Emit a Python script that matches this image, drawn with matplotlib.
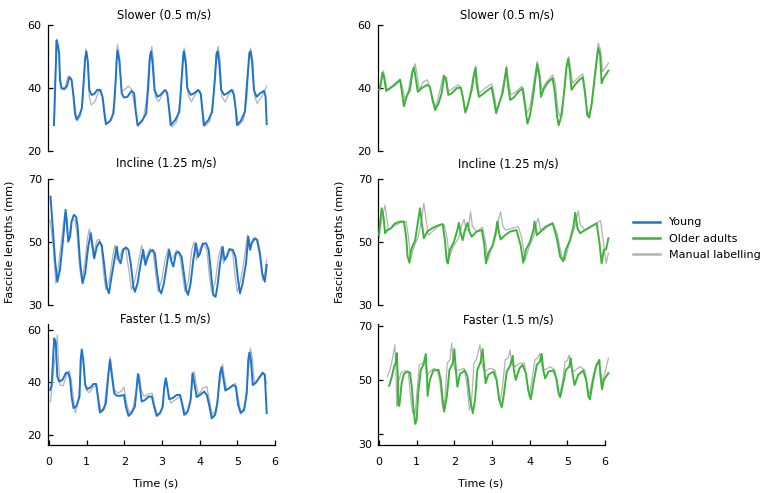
import matplotlib
matplotlib.use("Agg")
import matplotlib.pyplot as plt
from matplotlib.lines import Line2D

BLUE = "#1c74d0"
GREEN = "#3db33a"
GRAY = "#b3b3b3"

titles = ["Slower (0.5 m/s)", "Incline (1.25 m/s)", "Faster (1.5 m/s)"]
legend_labels = ["Young", "Older adults", "Manual labelling"]
x_ticks = [0, 1, 2, 3, 4, 5, 6]

# ---- Young (left column): (time s, fascicle length mm) ----
slow_young = [(0.13,28.2),(0.18,46.8),(0.20,55.1),(0.24,53.2),(0.27,50.6),(0.29,42.6),(0.33,39.9),(0.40,39.6),(0.47,40.4),(0.54,43.4),(0.60,42.6),(0.65,37.2),(0.69,31.9),(0.73,30.0),(0.81,31.4),(0.87,33.5),(0.91,40.4),(0.96,49.5),(0.99,51.6),(1.03,48.4),(1.07,39.4),(1.13,37.8),(1.20,38.1),(1.28,39.4),(1.35,39.4),(1.42,37.2),(1.47,31.9),(1.51,28.5),(1.62,29.5),(1.71,31.9),(1.76,40.4),(1.80,49.5),(1.82,51.9),(1.87,48.4),(1.93,38.3),(1.99,37.0),(2.08,37.2),(2.19,39.1),(2.26,38.3),(2.30,33.0),(2.35,28.2),(2.46,29.5),(2.58,31.9),(2.64,41.5),(2.68,50.0),(2.71,51.6),(2.75,47.9),(2.80,39.4),(2.88,37.2),(2.96,37.8),(3.08,39.4),(3.14,38.3),(3.19,33.0),(3.23,28.2),(3.35,29.8),(3.46,32.4),(3.52,42.6),(3.57,51.1),(3.58,51.6),(3.63,47.9),(3.67,39.9),(3.76,37.8),(3.85,38.3),(3.96,39.4),(4.03,38.1),(4.07,33.0),(4.11,28.2),(4.23,29.8),(4.33,32.4),(4.41,43.6),(4.45,51.1),(4.48,51.6),(4.52,47.9),(4.57,39.4),(4.65,37.8),(4.73,38.3),(4.85,39.4),(4.91,37.8),(4.96,33.0),(4.99,28.2),(5.09,29.5),(5.20,32.4),(5.27,43.6),(5.32,51.1),(5.35,51.6),(5.39,48.4),(5.44,39.4),(5.51,37.2),(5.60,38.3),(5.71,39.1),(5.75,37.2),(5.78,28.5)]
slow_young_manual = [(0.14,28.7),(0.19,54.3),(0.21,55.6),(0.26,52.2),(0.29,43.6),(0.34,40.2),(0.42,40.2),(0.51,43.8),(0.58,43.4),(0.65,38.3),(0.70,33.0),(0.75,29.5),(0.82,30.8),(0.89,35.1),(0.94,44.7),(0.98,52.4),(1.02,50.0),(1.07,37.2),(1.12,34.6),(1.22,35.6),(1.33,39.4),(1.38,39.6),(1.44,36.2),(1.50,30.8),(1.53,28.7),(1.66,29.8),(1.75,36.2),(1.80,52.2),(1.82,53.8),(1.87,50.0),(1.93,38.8),(2.01,39.6),(2.11,40.6),(2.19,39.6),(2.28,34.0),(2.37,27.8),(2.50,29.8),(2.59,36.2),(2.66,49.0),(2.73,53.2),(2.77,49.0),(2.82,37.2),(2.91,35.6),(3.04,38.8),(3.12,39.1),(3.19,34.0),(3.26,27.6),(3.39,29.2),(3.48,36.2),(3.55,49.5),(3.59,52.7),(3.64,49.0),(3.69,37.8),(3.78,35.6),(3.92,38.8),(4.01,39.1),(4.07,34.0),(4.14,27.8),(4.27,29.5),(4.36,36.2),(4.43,50.0),(4.49,53.2),(4.54,49.0),(4.59,37.2),(4.68,35.6),(4.81,38.8),(4.89,39.4),(4.96,33.0),(5.04,28.2),(5.16,29.8),(5.25,36.2),(5.32,51.1),(5.35,52.7),(5.41,49.0),(5.46,37.2),(5.53,35.1),(5.65,37.2),(5.78,40.6)]

incline_young = [(0.04,64.4),(0.16,44.3),(0.22,37.4),(0.29,41.1),(0.38,51.7),(0.44,60.2),(0.47,57.0),(0.51,50.1),(0.56,51.7),(0.60,56.5),(0.66,58.6),(0.72,58.0),(0.76,54.9),(0.82,44.3),(0.89,36.9),(0.96,40.1),(1.04,48.5),(1.11,52.8),(1.16,48.5),(1.20,44.8),(1.27,48.5),(1.34,50.1),(1.40,49.0),(1.46,43.2),(1.53,35.8),(1.59,33.7),(1.66,39.0),(1.75,45.3),(1.80,48.5),(1.84,44.8),(1.90,43.2),(1.97,47.5),(2.04,48.3),(2.11,47.5),(2.17,43.2),(2.24,35.8),(2.28,34.2),(2.35,36.9),(2.42,42.2),(2.50,47.5),(2.56,42.7),(2.61,44.8),(2.68,46.9),(2.75,47.5),(2.81,46.4),(2.86,41.1),(2.93,34.8),(2.98,33.7),(3.05,36.9),(3.12,42.2),(3.19,47.5),(3.25,43.8),(3.30,42.2),(3.37,46.4),(3.44,46.9),(3.52,45.3),(3.58,40.1),(3.64,34.8),(3.69,33.2),(3.76,36.9),(3.83,44.3),(3.90,49.6),(3.96,45.3),(4.01,46.4),(4.08,49.4),(4.17,49.6),(4.24,47.5),(4.30,40.1),(4.36,33.2),(4.42,32.6),(4.47,35.8),(4.54,43.2),(4.61,48.5),(4.66,44.3),(4.72,45.3),(4.79,47.7),(4.88,47.5),(4.95,45.3),(5.02,37.9),(5.07,33.7),(5.14,36.9),(5.23,43.2),(5.29,51.7),(5.34,47.5),(5.38,49.6),(5.47,51.2),(5.53,50.6),(5.60,46.4),(5.66,40.1),(5.73,37.4),(5.78,42.7)]
incline_young_manual = [(0.03,57.0),(0.12,47.5),(0.18,36.9),(0.25,42.2),(0.34,51.7),(0.42,59.1),(0.47,54.9),(0.51,50.6),(0.60,57.0),(0.69,57.0),(0.75,51.7),(0.82,41.1),(0.88,37.4),(0.96,44.3),(1.02,51.2),(1.07,54.1),(1.13,49.0),(1.18,45.3),(1.27,50.6),(1.34,50.8),(1.40,47.5),(1.46,39.0),(1.51,34.8),(1.60,37.9),(1.69,45.3),(1.75,49.0),(1.81,44.3),(1.88,45.3),(1.96,48.0),(2.04,47.5),(2.13,40.1),(2.19,34.8),(2.28,37.9),(2.37,43.2),(2.46,49.0),(2.52,44.3),(2.59,45.3),(2.68,48.0),(2.77,46.4),(2.84,39.0),(2.90,34.2),(2.99,37.9),(3.08,44.3),(3.17,48.0),(3.23,44.3),(3.30,45.3),(3.39,47.5),(3.48,45.3),(3.55,39.0),(3.61,34.2),(3.70,37.4),(3.79,47.5),(3.85,50.1),(3.92,44.3),(3.99,47.5),(4.08,49.6),(4.19,47.5),(4.26,39.0),(4.32,34.2),(4.41,36.9),(4.50,45.3),(4.57,48.5),(4.63,43.2),(4.70,45.3),(4.79,48.0),(4.88,46.4),(4.94,39.0),(5.00,34.2),(5.09,37.9),(5.18,44.3),(5.27,52.2),(5.34,48.5),(5.42,51.2),(5.51,50.6),(5.60,45.3),(5.67,37.9),(5.73,40.1),(5.78,44.3)]

fast_young = [(0.03,37.1),(0.07,39.0),(0.12,52.4),(0.14,56.8),(0.18,54.9),(0.22,42.2),(0.27,40.3),(0.36,41.0),(0.45,43.7),(0.51,43.7),(0.56,41.0),(0.60,34.6),(0.65,30.2),(0.73,31.0),(0.81,34.6),(0.84,48.6),(0.87,52.6),(0.91,48.6),(0.96,39.0),(1.02,37.4),(1.11,38.2),(1.18,39.4),(1.25,39.4),(1.29,35.2),(1.35,28.5),(1.44,29.5),(1.51,32.1),(1.58,43.5),(1.62,48.6),(1.66,43.5),(1.73,35.9),(1.80,34.9),(1.90,34.9),(1.99,35.2),(2.04,30.8),(2.11,27.2),(2.19,28.3),(2.28,30.8),(2.33,38.4),(2.36,43.2),(2.40,39.7),(2.46,32.7),(2.55,33.3),(2.64,34.6),(2.73,34.6),(2.79,30.8),(2.86,27.2),(2.95,28.3),(3.02,30.8),(3.06,38.4),(3.10,41.6),(3.14,38.4),(3.19,33.6),(3.28,34.0),(3.39,35.2),(3.48,35.2),(3.53,32.1),(3.59,27.6),(3.68,28.9),(3.76,33.3),(3.81,43.5),(3.86,39.7),(3.92,34.4),(4.01,35.2),(4.12,36.5),(4.19,35.2),(4.26,30.8),(4.32,26.3),(4.41,27.6),(4.47,32.1),(4.54,43.5),(4.58,45.8),(4.63,41.6),(4.68,36.9),(4.79,37.8),(4.89,39.0),(4.96,38.4),(5.02,31.4),(5.09,28.3),(5.18,29.5),(5.25,35.9),(5.29,48.6),(5.32,51.4),(5.36,48.6),(5.41,39.0),(5.48,39.7),(5.57,41.6),(5.67,43.7),(5.73,42.9),(5.78,28.3)]
fast_young_manual = [(0.04,32.7),(0.12,44.8),(0.19,52.4),(0.22,58.1),(0.25,48.6),(0.29,39.0),(0.38,38.7),(0.47,42.9),(0.54,44.5),(0.59,41.0),(0.65,33.3),(0.70,28.3),(0.78,33.3),(0.85,45.4),(0.88,50.5),(0.93,46.0),(0.98,37.1),(1.07,36.1),(1.18,38.4),(1.27,38.7),(1.32,33.3),(1.38,28.9),(1.47,31.0),(1.55,41.0),(1.62,49.8),(1.67,44.8),(1.73,37.1),(1.84,35.9),(1.93,36.9),(1.99,38.2),(2.06,32.1),(2.13,28.3),(2.22,29.5),(2.29,34.6),(2.35,39.7),(2.40,42.9),(2.45,37.1),(2.52,34.6),(2.64,35.6),(2.74,35.9),(2.81,30.8),(2.88,27.6),(2.99,29.5),(3.05,35.9),(3.11,41.2),(3.17,35.9),(3.23,32.1),(3.35,33.3),(3.48,34.6),(3.56,30.8),(3.65,27.6),(3.73,30.8),(3.81,39.7),(3.86,44.1),(3.90,39.7),(3.97,35.2),(4.08,37.8),(4.19,38.4),(4.26,33.3),(4.33,27.6),(4.43,29.5),(4.52,38.4),(4.61,46.9),(4.65,42.2),(4.72,37.1),(4.82,38.2),(4.95,39.7),(5.02,34.6),(5.09,28.3),(5.20,30.8),(5.29,43.5),(5.35,53.0),(5.40,49.2),(5.45,39.9),(5.56,41.0),(5.69,43.7),(5.78,39.7)]

# ---- Older adults (right column) ----
slow_older = [(0.00,39.4),(0.03,39.9),(0.09,44.9),(0.13,43.6),(0.19,39.1),(0.29,39.9),(0.42,41.0),(0.56,42.6),(0.60,39.4),(0.66,34.2),(0.73,37.2),(0.82,39.4),(0.89,45.2),(0.93,46.5),(0.98,42.6),(1.03,38.8),(1.13,39.9),(1.28,41.0),(1.35,40.4),(1.42,36.2),(1.49,33.0),(1.58,35.1),(1.66,38.3),(1.73,43.8),(1.78,43.1),(1.84,37.8),(1.93,38.3),(2.06,39.9),(2.17,40.2),(2.24,36.2),(2.29,32.2),(2.37,35.1),(2.46,39.4),(2.52,44.2),(2.56,46.3),(2.59,41.5),(2.65,37.2),(2.75,38.0),(2.86,39.1),(2.99,40.2),(3.05,36.2),(3.11,32.0),(3.19,35.1),(3.28,38.3),(3.35,43.6),(3.38,46.3),(3.42,41.5),(3.48,36.2),(3.58,37.0),(3.70,38.8),(3.81,39.9),(3.88,34.0),(3.94,28.7),(4.01,31.4),(4.10,38.3),(4.17,44.7),(4.20,47.6),(4.26,43.6),(4.30,37.2),(4.38,39.9),(4.50,42.0),(4.61,43.1),(4.67,38.3),(4.73,30.8),(4.77,28.2),(4.85,31.4),(4.92,39.4),(4.98,46.8),(5.02,49.2),(5.07,45.2),(5.11,39.4),(5.20,41.0),(5.32,42.6),(5.41,43.4),(5.47,38.3),(5.53,31.4),(5.58,30.6),(5.65,35.1),(5.73,43.6),(5.82,52.7),(5.87,50.6),(5.91,41.5),(5.96,43.1),(6.09,45.5)]
slow_older_manual = [(0.00,39.9),(0.07,42.6),(0.12,45.5),(0.16,42.6),(0.22,39.4),(0.38,41.0),(0.56,42.8),(0.63,39.9),(0.69,36.2),(0.78,39.1),(0.87,45.2),(0.96,47.7),(1.02,43.6),(1.07,39.4),(1.18,42.0),(1.28,42.6),(1.35,40.2),(1.44,36.2),(1.51,34.0),(1.62,39.4),(1.71,44.2),(1.78,41.5),(1.84,38.8),(1.96,39.9),(2.11,41.0),(2.19,39.4),(2.27,34.0),(2.33,33.0),(2.42,38.3),(2.50,43.6),(2.57,47.0),(2.61,42.6),(2.66,38.3),(2.81,39.9),(2.99,41.3),(3.07,37.2),(3.12,33.0),(3.23,36.7),(3.32,42.6),(3.39,47.0),(3.43,42.6),(3.50,37.8),(3.64,38.8),(3.79,40.6),(3.85,38.8),(3.92,31.9),(4.01,34.0),(4.12,42.6),(4.20,48.4),(4.26,45.2),(4.32,39.4),(4.45,42.0),(4.61,44.2),(4.68,41.5),(4.75,33.0),(4.81,30.8),(4.89,36.2),(4.98,46.8),(5.04,50.0),(5.09,45.7),(5.14,41.5),(5.27,43.1),(5.41,44.5),(5.47,39.9),(5.53,31.4),(5.62,33.0),(5.73,44.7),(5.82,54.3),(5.88,52.2),(5.94,45.2),(6.09,47.9)]

incline_older = [(0.00,52.2),(0.01,53.8),(0.07,60.7),(0.12,58.0),(0.16,52.8),(0.22,53.8),(0.31,54.3),(0.42,55.9),(0.56,56.5),(0.66,56.5),(0.72,51.7),(0.76,45.3),(0.81,43.4),(0.85,47.5),(0.96,50.6),(1.04,57.0),(1.09,60.7),(1.13,56.5),(1.19,51.2),(1.28,53.3),(1.40,54.3),(1.53,55.1),(1.69,55.7),(1.75,50.6),(1.80,43.8),(1.83,43.2),(1.88,47.5),(1.99,50.1),(2.08,53.8),(2.12,56.1),(2.17,52.8),(2.22,50.6),(2.28,53.8),(2.35,56.1),(2.40,53.3),(2.46,51.7),(2.59,53.3),(2.73,53.8),(2.79,49.6),(2.84,43.2),(2.90,46.4),(3.02,49.0),(3.11,53.8),(3.14,56.5),(3.19,52.8),(3.23,50.8),(3.35,52.2),(3.48,53.3),(3.65,53.8),(3.76,49.0),(3.83,43.4),(3.90,47.5),(4.01,50.1),(4.10,53.8),(4.13,56.5),(4.19,52.2),(4.29,53.3),(4.45,54.9),(4.61,55.9),(4.72,51.2),(4.81,45.3),(4.89,43.9),(4.96,47.5),(5.07,50.6),(5.16,54.9),(5.21,59.3),(5.27,54.3),(5.34,52.8),(5.47,53.8),(5.60,54.7),(5.78,55.9),(5.85,50.1),(5.91,43.2),(5.97,47.5),(6.03,47.7),(6.09,51.2)]
incline_older_manual = [(0.00,51.2),(0.03,54.9),(0.16,61.7),(0.20,58.0),(0.25,53.8),(0.38,54.9),(0.56,56.1),(0.72,56.5),(0.78,51.7),(0.84,44.8),(0.93,48.5),(1.04,51.7),(1.13,57.0),(1.19,62.3),(1.24,58.0),(1.31,52.2),(1.46,53.8),(1.62,55.4),(1.73,55.4),(1.80,51.7),(1.87,45.3),(1.97,48.5),(2.11,51.2),(2.19,54.9),(2.26,57.2),(2.31,53.8),(2.37,53.8),(2.43,59.6),(2.48,54.9),(2.59,53.3),(2.75,54.7),(2.82,50.6),(2.89,44.3),(2.99,48.0),(3.11,52.2),(3.19,58.0),(3.23,59.6),(3.28,55.4),(3.35,53.8),(3.52,54.3),(3.70,54.9),(3.79,51.2),(3.88,44.3),(3.99,48.5),(4.12,52.2),(4.19,56.5),(4.23,57.5),(4.29,53.8),(4.43,55.1),(4.61,56.1),(4.73,52.8),(4.85,45.3),(4.94,44.3),(5.05,49.6),(5.20,54.9),(5.29,59.8),(5.35,55.4),(5.47,53.8),(5.69,55.4),(5.88,56.8),(5.94,51.7),(6.03,43.2),(6.09,46.4)]

fast_older = [(0.27,47.8),(0.34,51.2),(0.40,54.9),(0.44,56.2),(0.47,59.9),(0.50,51.2),(0.51,40.7),(0.54,40.4),(0.60,48.8),(0.66,52.2),(0.75,53.1),(0.82,52.7),(0.87,47.5),(0.91,40.1),(0.96,33.7),(1.00,35.2),(1.04,45.1),(1.11,53.7),(1.18,55.6),(1.24,59.6),(1.27,52.5),(1.29,44.1),(1.35,50.0),(1.44,53.5),(1.58,53.7),(1.64,50.0),(1.69,42.6),(1.73,38.3),(1.80,43.8),(1.87,53.7),(1.96,56.2),(2.00,61.4),(2.04,53.7),(2.08,47.5),(2.15,52.2),(2.28,53.5),(2.35,51.2),(2.42,42.6),(2.49,37.7),(2.55,42.6),(2.61,53.7),(2.70,56.8),(2.75,61.4),(2.79,54.9),(2.83,48.8),(2.90,51.9),(3.04,53.1),(3.12,50.0),(3.19,42.6),(3.26,39.9),(3.32,45.1),(3.39,53.1),(3.48,55.2),(3.55,58.9),(3.58,53.7),(3.63,50.0),(3.73,54.3),(3.81,55.6),(3.90,52.5),(3.96,46.3),(4.03,42.8),(4.10,48.8),(4.19,55.6),(4.27,56.8),(4.32,59.6),(4.36,53.7),(4.41,50.6),(4.50,53.1),(4.63,53.5),(4.72,50.0),(4.77,45.1),(4.81,43.6),(4.89,48.8),(4.96,53.7),(5.05,54.9),(5.09,58.0),(5.13,53.1),(5.19,48.1),(5.29,51.9),(5.42,53.5),(5.50,50.0),(5.56,43.8),(5.60,42.8),(5.67,48.8),(5.76,54.9),(5.85,57.4),(5.88,51.5),(5.92,46.5),(5.97,50.0),(6.09,52.5)]
fast_older_manual = [(0.22,51.2),(0.29,53.7),(0.36,58.0),(0.42,63.0),(0.45,53.7),(0.47,40.1),(0.51,48.8),(0.58,52.5),(0.69,53.5),(0.78,52.5),(0.82,46.3),(0.89,37.7),(0.96,37.7),(1.02,47.5),(1.07,55.6),(1.16,56.2),(1.22,56.4),(1.27,51.2),(1.35,53.1),(1.46,54.3),(1.55,53.7),(1.62,48.8),(1.69,39.5),(1.75,42.6),(1.81,56.2),(1.88,57.4),(1.93,63.6),(1.97,56.2),(2.02,53.7),(2.15,53.7),(2.26,54.3),(2.33,48.8),(2.40,38.9),(2.46,42.6),(2.52,56.2),(2.59,57.7),(2.68,63.0),(2.73,56.2),(2.79,53.1),(2.95,54.3),(3.08,53.7),(3.14,48.8),(3.21,41.4),(3.28,47.5),(3.35,57.4),(3.43,58.0),(3.48,61.1),(3.53,55.6),(3.61,54.9),(3.74,56.2),(3.86,56.2),(3.92,50.0),(3.99,43.8),(4.06,50.0),(4.14,57.4),(4.23,58.4),(4.27,59.9),(4.33,54.9),(4.41,53.7),(4.54,54.9),(4.67,53.7),(4.74,46.3),(4.79,43.8),(4.88,50.0),(4.94,56.8),(5.00,57.2),(5.05,59.3),(5.09,54.9),(5.16,53.1),(5.34,54.9),(5.47,53.7),(5.53,47.5),(5.58,44.4),(5.69,51.9),(5.78,56.2),(5.83,56.8),(5.88,53.1),(5.94,49.4),(6.09,58.0)]

young_series = [(slow_young, slow_young_manual), (incline_young, incline_young_manual), (fast_young, fast_young_manual)]
older_series = [(slow_older, slow_older_manual), (incline_older, incline_older_manual), (fast_older, fast_older_manual)]

W, H = 764, 493
fig = plt.figure(figsize=(W / 100, H / 100), dpi=100)
FS = 8

def px_axes(l, t, r, b):
    return fig.add_axes([l / W, 1 - b / H, (r - l) / W, (b - t) / H])

rows_px = [(25, 151), (179, 305), (324, 445)]
cols_px = [(48, 275), (378, 605)]
ylims = {
    (0, 0): (20, 60), (1, 0): (30, 70), (2, 0): (16.1, 62.3),
    (0, 1): (20, 60), (1, 1): (30, 70), (2, 1): (25.9, 70.7),
}
yticks = {
    (0, 0): [20, 40, 60], (1, 0): [30, 50, 70], (2, 0): [20, 40, 60],
    (0, 1): [20, 40, 60], (1, 1): [30, 50, 70], (2, 1): [30, 50, 70],
}
title_pos = {
    (0, 0): (164, 15), (1, 0): (166, 163), (2, 0): (165, 319),
    (0, 1): (507, 15), (1, 1): (508, 164), (2, 1): (508, 320),
}

for c, (series_set, color) in enumerate([(young_series, BLUE), (older_series, GREEN)]):
    l, r = cols_px[c]
    for ri, (main, manual) in enumerate(series_set):
        t, b = rows_px[ri]
        ax = px_axes(l, t, r, b)
        ax.set_facecolor("none")
        mt = [p[0] for p in manual]
        mv = [p[1] for p in manual]
        st = [p[0] for p in main]
        sv = [p[1] for p in main]
        ax.plot(mt, mv, color=GRAY, lw=0.9, zorder=2, clip_on=False)
        ax.plot(st, sv, color=color, lw=1.4, zorder=3, clip_on=False)
        ax.set_xlim(-0.027, 6.0)
        ax.set_ylim(*ylims[(ri, c)])
        ax.set_yticks(yticks[(ri, c)])
        for s in ["top", "right"]:
            ax.spines[s].set_visible(False)
        for s in ["left", "bottom"]:
            ax.spines[s].set_linewidth(0.9)
        ax.tick_params(direction="in", length=3.5, width=0.9, labelsize=FS, pad=4.5)
        if ri < 2:
            ax.spines["bottom"].set_visible(False)
            ax.set_xticks([])
        else:
            ax.set_xticks(x_ticks)
            ax.tick_params(axis="x", pad=8.5)
            if c == 1:
                ax.set_yticklabels(["", "50", "70"])
                ax.text(-0.025, ylims[(ri, c)][0], "30", transform=ax.get_yaxis_transform(),
                        ha="right", va="center", fontsize=FS)
        tx, ty = title_pos[(ri, c)]
        fig.text(tx / W, 1 - ty / H, titles[ri], ha="center", va="center", fontsize=8.3)

fig.text(10 / W, 1 - 242 / H, "Fascicle lengths (mm)", rotation=90, ha="center", va="center", fontsize=FS)
fig.text(340 / W, 1 - 242 / H, "Fascicle lengths (mm)", rotation=90, ha="center", va="center", fontsize=FS)
fig.text(156 / W, 1 - 483 / H, "Time (s)", ha="center", va="center", fontsize=FS)
fig.text(481 / W, 1 - 483 / H, "Time (s)", ha="center", va="center", fontsize=FS)

handles = [Line2D([], [], color=BLUE, lw=1.8), Line2D([], [], color=GREEN, lw=1.8), Line2D([], [], color=GRAY, lw=1.8)]
fig.legend(handles, legend_labels, loc="center left", bbox_to_anchor=(633 / W, 1 - 238.5 / H),
           frameon=False, fontsize=FS, handlelength=2.4, handletextpad=0.8, labelspacing=0.55,
           borderpad=0, borderaxespad=0)

fig.savefig("out.png", dpi=100)
